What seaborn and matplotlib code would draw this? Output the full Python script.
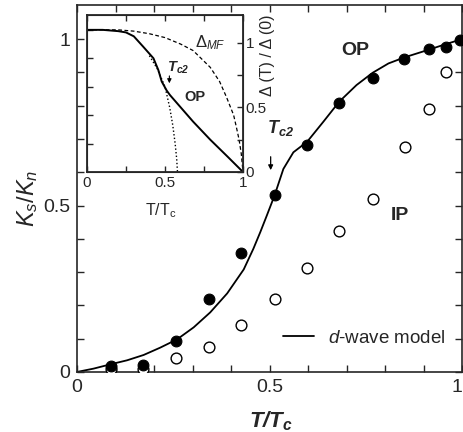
import matplotlib
matplotlib.use("Agg")
import matplotlib.pyplot as plt
import seaborn as sns

# main panel: superfluid density K_s/K_n vs T/Tc
t_pts = [0.087, 0.172, 0.257, 0.344, 0.427, 0.513, 0.598, 0.681, 0.768, 0.85, 0.913, 0.958, 0.995]
ks_op = [0.018, 0.021, 0.094, 0.22, 0.358, 0.531, 0.682, 0.807, 0.884, 0.939, 0.969, 0.977, 0.997]
t_ip = [0.087, 0.172, 0.257, 0.344, 0.427, 0.513, 0.598, 0.681, 0.768, 0.852, 0.913, 0.958]
ks_ip = [0.008, 0.009, 0.041, 0.076, 0.141, 0.220, 0.311, 0.424, 0.519, 0.677, 0.789, 0.90]

t_model = [0.0, 0.043, 0.087, 0.13, 0.173, 0.216, 0.26, 0.303, 0.346, 0.39, 0.433, 0.458,
           0.476, 0.493, 0.513, 0.536, 0.562, 0.598, 0.64, 0.681, 0.726, 0.768, 0.809,
           0.85, 0.913, 0.958, 1.0]
ks_model = [0.0, 0.010, 0.023, 0.035, 0.051, 0.073, 0.098, 0.134, 0.179, 0.236, 0.308, 0.37,
            0.42, 0.47, 0.53, 0.61, 0.66, 0.692, 0.752, 0.812, 0.862, 0.899, 0.927,
            0.945, 0.968, 0.985, 1.0]

# inset: gap Delta(T)/Delta(0)
t_gap = [0.0, 0.1, 0.2, 0.25, 0.3, 0.36, 0.426, 0.457, 0.479, 0.511, 0.532, 0.68, 0.79, 0.9, 1.0]
gap_op = [1.10, 1.10, 1.09, 1.08, 1.05, 0.97, 0.88, 0.79, 0.70, 0.63, 0.595, 0.39, 0.25, 0.12, 0.0]
t_bcs = [0.4, 0.45, 0.5, 0.53, 0.55, 0.565, 0.575, 0.58]
gap_bcs = [0.90, 0.80, 0.66, 0.50, 0.36, 0.22, 0.10, 0.0]
t_mf = [0.0, 0.2, 0.3, 0.4, 0.5, 0.6, 0.68, 0.79, 0.85, 0.894, 0.94, 0.957, 0.975, 0.989, 1.0]
gap_mf = [1.10, 1.10, 1.09, 1.07, 1.04, 0.99, 0.94, 0.81, 0.70, 0.58, 0.44, 0.35, 0.25, 0.14, 0.0]

sns.set_style("ticks")
plt.rcParams['font.family'] = ['Liberation Sans', 'DejaVu Sans']
plt.rcParams['mathtext.fontset'] = 'custom'
plt.rcParams['mathtext.rm'] = 'Liberation Sans'
plt.rcParams['mathtext.it'] = 'Liberation Sans:italic'
plt.rcParams['mathtext.bf'] = 'Liberation Sans:bold'
plt.rcParams['mathtext.bfit'] = 'Liberation Sans:italic:bold'

fig = plt.figure(figsize=(4.64, 4.32), dpi=100)
ax = fig.add_axes([0.166, 0.139, 0.8297, 0.849])

sns.lineplot(x=t_model, y=ks_model, sort=False, estimator=None, color='k', lw=1.3,
             label=r'$\mathit{d}$-wave model', ax=ax)
sns.scatterplot(x=t_ip, y=ks_ip, s=60, facecolor='white', edgecolor='k', linewidth=1.0, ax=ax, zorder=3)
sns.scatterplot(x=t_pts, y=ks_op, s=60, color='k', edgecolor='k', linewidth=0.8, ax=ax, zorder=4)

ax.set_xlim(0, 1)
ax.set_ylim(0, 1.102)
ax.set_xticks([i / 10 for i in range(11)])
ax.set_xticklabels(['0', '', '', '', '', '0.5', '', '', '', '', '1'])
ax.set_yticks([i / 10 for i in range(11)])
ax.set_yticklabels(['0', '', '', '', '', '0.5', '', '', '', '', '1'])
ax.tick_params(direction='in', top=True, right=True, length=5, width=1, labelsize=14, pad=5)
ax.get_xticklabels()[-1].set_ha('right')
for sp in ax.spines.values():
    sp.set_linewidth(1.2)

ax.set_xlabel(r'$\mathbfit{T/T_c}$', fontsize=16)
ax.xaxis.set_label_coords(0.504, -0.102)
ax.set_ylabel(r'$\mathit{K_s/K_n}$', fontsize=17)
ax.yaxis.set_label_coords(-0.097, 0.474)

ax.legend(loc='center left', bbox_to_anchor=(0.535, 0.0926), frameon=False, fontsize=13.5,
          borderpad=0, borderaxespad=0, handlelength=1.65, handletextpad=0.75)

ax.text(0.722, 0.967, 'OP', fontsize=14, fontweight='bold', ha='center', va='center')
ax.text(0.839, 0.471, 'IP', fontsize=14, fontweight='bold', ha='center', va='center')
ax.text(0.494, 0.733, r'$\mathbfit{T_{c2}}$', fontsize=13, ha='left', va='center')
ax.annotate('', xy=(0.503, 0.598), xytext=(0.503, 0.655),
            arrowprops=dict(arrowstyle='-|>', color='k', lw=0.9, mutation_scale=7))

# inset
axi = fig.add_axes([0.1875, 0.6019, 0.3362, 0.3634])
axi.set_facecolor('white')
sns.lineplot(x=t_gap, y=gap_op, sort=False, estimator=None, color='k', lw=1.4, ax=axi)
sns.lineplot(x=t_bcs, y=gap_bcs, sort=False, estimator=None, color='k', lw=1.0,
             ax=axi, linestyle=(0, (1, 1.6)))
sns.lineplot(x=t_mf, y=gap_mf, sort=False, estimator=None, color='k', lw=0.9,
             ax=axi, linestyle=(0, (3, 2)))
axi.set_xlim(0, 1)
axi.set_ylim(0, 1.215)
axi.set_xticks([0, 0.25, 0.5, 0.75, 1])
axi.set_xticklabels(['0', '', '0.5', '', '1'])
axi.set_yticks([0.22, 0.44, 0.66, 0.88, 1.1])
axi.tick_params(direction='in', top=True, length=4, width=1, labelsize=11, labelleft=False, pad=3)
for sp in axi.spines.values():
    sp.set_linewidth(1.3)
axi.set_xlabel(r'T/T$_\mathrm{c}$', fontsize=11.5)
axi.xaxis.set_label_coords(0.47, -0.185)

axr = axi.twinx()
axr.set_ylim(0, 1.215)
axr.set_yticks([0, 0.25, 0.5, 0.75, 1])
axr.set_yticklabels(['0', '', '0.5', '', '1'])
axr.tick_params(direction='in', length=4, width=1, labelsize=11, pad=2)
axr.set_ylabel('Δ (T) / Δ (0)', fontsize=11.5)
axr.yaxis.set_label_coords(1.11, 0.745)

axi.text(0.69, 1.0, r'Δ$_{\mathit{MF}}$', fontsize=12, ha='left', va='center')
axi.text(0.51, 0.81, r'$\mathbfit{T_{c2}}$', fontsize=10.5, ha='left', va='center')
axi.annotate('', xy=(0.528, 0.665), xytext=(0.528, 0.765),
             arrowprops=dict(arrowstyle='-|>', color='k', lw=0.8, mutation_scale=6))
axi.text(0.69, 0.58, 'OP', fontsize=10.5, fontweight='bold', ha='center', va='center')

fig.savefig('out.png', dpi=100)
